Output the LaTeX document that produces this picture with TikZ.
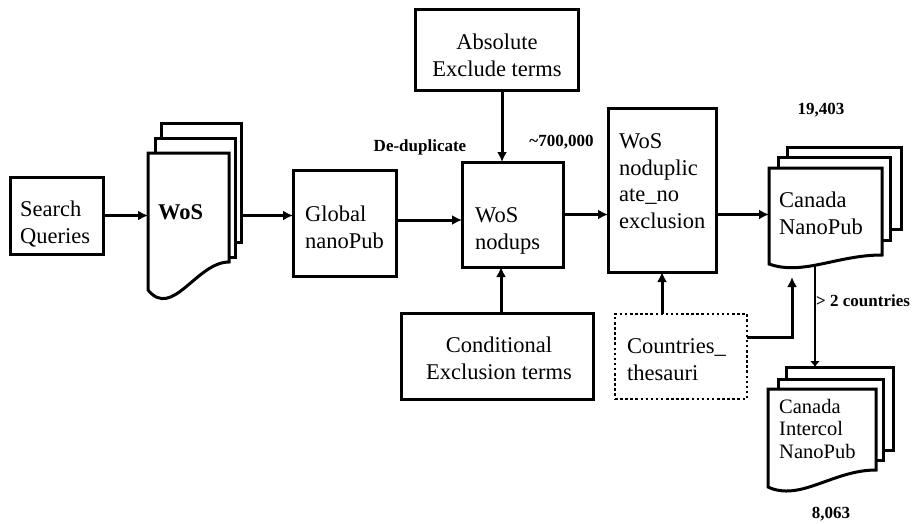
\documentclass[tikz,border=0pt]{standalone}
\usepackage{fontspec}
\setmainfont{Liberation Serif}
\usetikzlibrary{arrows.meta}
\begin{document}
\begin{tikzpicture}[x=1pt,y=-1pt,
  box/.style={draw, line width=3pt, fill=white, inner sep=0pt, outer sep=0pt},
  dotbox/.style={draw, line width=2.5pt, dash pattern=on 2.5pt off 2.6pt, fill=white, inner sep=0pt, outer sep=0pt},
  ghost/.style={inner sep=0pt, outer sep=0pt},
  frontpage/.style={draw, line width=3pt, fill=white, line join=miter},
  txt/.style={inner sep=0pt, font=\fontsize{22.5}{26.5}\selectfont, align=left, anchor=base west},
  ctxt/.style={inner sep=0pt, font=\fontsize{22.5}{26.5}\selectfont, align=center, anchor=base},
  lbl/.style={inner sep=0pt, font=\bfseries\fontsize{17}{20}\selectfont, anchor=base},
  arr/.style={line width=3pt, -{Latex[length=10pt,width=10pt]}}]
\useasboundingbox (0,0) rectangle (923,523);

% plain boxes
\node[box, minimum width=93, minimum height=77] (sq) at (56.5,215.5) {};
\node[box, minimum width=103, minimum height=106] (global) at (344.5,223) {};
\node[box, minimum width=101, minimum height=105] (nodups) at (512.5,214.5) {};
\node[box, minimum width=163, minimum height=81] (abs) at (496.5,49.5) {};
\node[box, minimum width=108, minimum height=164] (nd) at (662,190) {};
\node[box, minimum width=192, minimum height=86] (cond) at (497,356) {};
\node[dotbox, minimum width=132, minimum height=85] (th) at (681,356.5) {};

% WoS document stack
\node[box, minimum width=80, minimum height=119] (wos3) at (201,182.5) {};
\node[box, minimum width=80, minimum height=119] (wos2) at (195,197.5) {};
\node[ghost, minimum width=81, minimum height=137] (wos) at (188.5,221.5) {};
\draw[frontpage] (wos.north west) -- (wos.north east) -- (229,262)
  .. controls (196.6,262) and (172.3,320) .. (wos.south west) -- cycle;

% Canada NanoPub document stack
\node[box, minimum width=114, minimum height=82] (can3) at (844,188) {};
\node[box, minimum width=112, minimum height=83] (can2) at (834,198.5) {};
\node[ghost, minimum width=113, minimum height=96] (can) at (825.5,216) {};
\draw[frontpage] (can.north west) -- (can.north east) -- (882,255)
  .. controls (836.8,255) and (802.9,276) .. (can.south west) -- cycle;

% Canada Intercol NanoPub document stack
\node[box, minimum width=107, minimum height=83] (ic3) at (839.5,408.5) {};
\node[box, minimum width=105, minimum height=81] (ic2) at (830.5,419.5) {};
\node[ghost, minimum width=108, minimum height=98] (ic) at (822,438) {};
\draw[frontpage] (ic.north west) -- (ic.north east) -- (876,470)
  .. controls (832.8,470) and (800.4,502) .. (ic.south west) -- cycle;

% texts (anchor = baseline of the last line)
\node[txt] (sqT) at (20,243) {Search\\Queries};
\node[txt, font=\bfseries\fontsize{22.5}{26.5}\selectfont] (wosT) at (158,219) {WoS};
\node[txt] (globalT) at (305,248) {Global\\nanoPub};
\node[txt] (nodupsT) at (475,249) {WoS\\nodups};
\node[ctxt] (absT) at (497,76) {Absolute\\Exclude terms};
\node[txt] (ndT) at (619,228) {WoS\\noduplic\\ate\_no\\exclusion};
\node[txt] (canT) at (779,234) {Canada\\NanoPub};
\node[ctxt] (condT) at (499,379) {Conditional\\Exclusion terms};
\node[txt] (thT) at (627,380) {Countries\_\\thesauri};
\node[txt, font=\fontsize{20.5}{22.5}\selectfont] (icT) at (779,458) {Canada\\Intercol\\NanoPub};

% bold labels
\node[lbl] (dd) at (420,151) {De-duplicate};
\node[lbl] (n700) at (561.5,146) {\textasciitilde700,000};
\node[lbl] (n19) at (821,114) {19,403};
\node[lbl, anchor=base west] (n2c) at (816,306) {> 2 countries};
\node[lbl] (n8) at (831,518) {8,063};

% connectors
\draw[arr] (sq.east) -- (sq.east -| wos.west);
\draw[arr] (wos3.east |- sq.east) -- (global.west |- sq.east);
\draw[arr] ([yshift=3pt]global.east) -- ([yshift=3pt]global.east -| nodups.west);
\draw[arr] ([xshift=5.5pt]abs.south) -- ([xshift=5.5pt]abs.south |- nodups.north);
\draw[arr] ([xshift=4pt]cond.north) -- ([xshift=4pt]cond.north |- nodups.south);
\draw[arr] (nodups.east) -- (nodups.east -| nd.west);
\draw[arr] (nodups.east -| nd.east) -- (nodups.east -| can.west);
\draw[arr] (th.north -| nd.south) -- (nd.south);
\coordinate (cin) at (792,277);
\draw[arr] ([yshift=19.5pt]th.east) -| (cin);
\coordinate (cout) at (815,265);
\draw[line width=2pt, -{Latex[length=6pt,width=10pt]}] (cout) -- (cout |- ic3.north);
\end{tikzpicture}
\end{document}
